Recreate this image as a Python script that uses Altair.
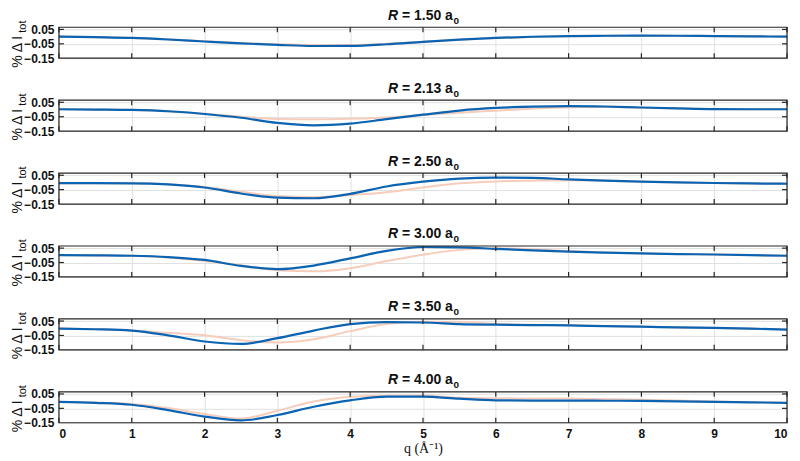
import altair as alt
import pandas as pd

q = [0, 0.5, 1, 1.5, 2, 2.5, 3, 3.5, 4, 4.5, 5, 5.5, 6, 6.5, 7, 7.5, 8, 8.5, 9, 9.5, 10]

r_labels = ["1.50", "2.13", "2.50", "3.00", "3.50", "4.00"]

blue_150 = [0.000, -0.004, -0.009, -0.020, -0.034, -0.047, -0.057, -0.065, -0.064, -0.053, -0.036,
            -0.021, -0.009, -0.001, 0.004, 0.006, 0.007, 0.006, 0.004, 0.002, 0.000]
orange_150 = [0.000, -0.004, -0.009, -0.019, -0.032, -0.044, -0.053, -0.058, -0.058, -0.050, -0.036,
              -0.022, -0.010, -0.002, 0.003, 0.005, 0.006, 0.005, 0.004, 0.002, 0.000]

blue_213 = [0.002, 0.000, -0.003, -0.012, -0.031, -0.057, -0.093, -0.110, -0.098, -0.067, -0.036,
            -0.007, 0.011, 0.020, 0.024, 0.021, 0.014, 0.008, 0.003, 0.002, 0.002]
orange_213 = [0.002, 0.000, -0.003, -0.012, -0.030, -0.050, -0.065, -0.068, -0.064, -0.055, -0.038,
              -0.022, -0.008, 0.006, 0.016, 0.018, 0.013, 0.008, 0.004, 0.002, 0.002]

blue_250 = [-0.005, -0.005, -0.006, -0.014, -0.035, -0.077, -0.106, -0.110, -0.079, -0.028, 0.005,
            0.027, 0.034, 0.032, 0.021, 0.012, 0.005, 0.000, -0.004, -0.007, -0.009]
orange_250 = [-0.005, -0.005, -0.006, -0.013, -0.032, -0.065, -0.094, -0.101, -0.088, -0.068, -0.035,
              -0.006, 0.007, 0.012, 0.015, 0.012, 0.005, 0.000, -0.004, -0.007, -0.009]

blue_300 = [0.002, 0.000, -0.003, -0.012, -0.032, -0.073, -0.096, -0.071, -0.021, 0.031, 0.058,
            0.056, 0.045, 0.035, 0.026, 0.019, 0.013, 0.009, 0.006, 0.002, -0.003]
orange_300 = [0.002, 0.000, -0.003, -0.015, -0.039, -0.068, -0.104, -0.111, -0.089, -0.040, 0.004,
              0.038, 0.049, 0.043, 0.030, 0.020, 0.013, 0.009, 0.006, 0.002, -0.003]

blue_350 = [-0.002, -0.007, -0.016, -0.049, -0.092, -0.109, -0.069, -0.016, 0.029, 0.042, 0.040,
            0.029, 0.025, 0.022, 0.020, 0.015, 0.011, 0.006, 0.002, -0.003, -0.009]
orange_350 = [-0.002, -0.007, -0.016, -0.032, -0.049, -0.083, -0.099, -0.076, -0.020, 0.029, 0.045,
              0.043, 0.030, 0.024, 0.020, 0.015, 0.011, 0.006, 0.002, -0.003, -0.009]

blue_400 = [-0.005, -0.012, -0.025, -0.062, -0.107, -0.134, -0.096, -0.039, 0.006, 0.031, 0.031,
            0.017, 0.006, 0.004, 0.004, 0.003, 0.002, -0.001, -0.005, -0.008, -0.012]
orange_400 = [-0.005, -0.010, -0.020, -0.048, -0.089, -0.121, -0.066, -0.003, 0.031, 0.038, 0.038,
              0.024, 0.020, 0.019, 0.018, 0.014, 0.010, 0.005, -0.002, -0.007, -0.012]

blues = [blue_150, blue_213, blue_250, blue_300, blue_350, blue_400]
oranges = [orange_150, orange_213, orange_250, orange_300, orange_350, orange_400]

x_ticks = [0, 1, 2, 3, 4, 5, 6, 7, 8, 9, 10]
y_ticks = [0.05, -0.05, -0.15]
y_inner_ticks = [0.05, -0.05]

DARK = "#262626"
TXT = "#111111"
GRID = "#E0E0E0"
BLUE = "#0B63B2"
ORANGE = "#F6CDBB"
FONT = "Liberation Sans"

W = 729
H = 31
TICK = 5


def panel(i):
    last = i == len(r_labels) - 1
    df = pd.DataFrame({"q": q, "blue": blues[i], "orange": oranges[i]})
    xs = alt.Scale(domain=[0, 10], nice=False, zero=False)
    ys = alt.Scale(domain=[-0.15, 0.065], nice=False, zero=False)
    base = alt.Chart(df)

    bottom_kw = dict(orient="bottom", values=x_ticks, grid=True, gridColor=GRID, gridWidth=1,
                     domain=False, ticks=False, labels=last, labelFont=FONT,
                     labelFontWeight="bold", labelFontSize=12, labelColor=TXT, labelPadding=6,
                     labelFlush=True, minExtent=0)
    if last:
        bottom_kw.update(title="q (Å\u207b\u00b9)", titleFont="Liberation Serif",
                         titleFontWeight="normal", titleFontSize=14, titleColor=TXT,
                         titlePadding=2)
    else:
        bottom_kw.update(title=None, maxExtent=0)
    left_kw = dict(orient="left", values=y_ticks, format=".2f", grid=True, gridColor=GRID,
                   domain=False, ticks=False, labelFont=FONT, labelFontWeight="bold",
                   labelFontSize=12, labelColor=TXT, labelPadding=5, minExtent=0,
                   title=None)

    orange = base.mark_line(color=ORANGE, strokeWidth=2, interpolate="monotone").encode(
        x=alt.X("q:Q", scale=xs, axis=alt.Axis(**bottom_kw)),
        y=alt.Y("orange:Q", scale=ys, axis=alt.Axis(**left_kw)),
    )
    blue = base.mark_line(color=BLUE, strokeWidth=2.2, interpolate="monotone").encode(
        x=alt.X("q:Q", scale=xs, axis=None),
        y=alt.Y("blue:Q", scale=ys, axis=None),
    )

    # inward tick marks on all four sides
    xt = alt.Chart(pd.DataFrame({"q": x_ticks}))
    yt = alt.Chart(pd.DataFrame({"v": y_inner_ticks}))
    rule = dict(color=DARK, strokeWidth=1.2)
    t_top = xt.mark_rule(**rule).encode(
        x=alt.X("q:Q", scale=xs, axis=None), y=alt.value(0), y2=alt.value(TICK))
    t_bot = xt.mark_rule(**rule).encode(
        x=alt.X("q:Q", scale=xs, axis=None), y=alt.value(H - TICK), y2=alt.value(H))
    t_left = yt.mark_rule(**rule).encode(
        y=alt.Y("v:Q", scale=ys, axis=None), x=alt.value(0), x2=alt.value(TICK))
    t_right = yt.mark_rule(**rule).encode(
        y=alt.Y("v:Q", scale=ys, axis=None), x=alt.value(W - TICK), x2=alt.value(W))

    # panel title  "R = x.xx a0"
    tdf = pd.DataFrame({"r": ["R"], "rest": [f"= {r_labels[i]} a"], "sub": ["0"]})
    tb = alt.Chart(tdf)
    frame = tb.mark_rect(fillOpacity=0, stroke=DARK, strokeWidth=1.2).encode(
        x=alt.value(0), x2=alt.value(W), y=alt.value(0), y2=alt.value(H))
    cx = W / 2
    t_base = -7.5
    t_r = tb.mark_text(font=FONT, fontSize=14, fontWeight="bold", fontStyle="italic",
                       color=TXT, align="left", baseline="alphabetic").encode(
        x=alt.value(cx - 35), y=alt.value(t_base), text="r:N")
    t_rest = tb.mark_text(font=FONT, fontSize=14, fontWeight="bold", color=TXT,
                          align="left", baseline="alphabetic").encode(
        x=alt.value(cx - 21), y=alt.value(t_base), text="rest:N")
    t_sub = tb.mark_text(font=FONT, fontSize=10, fontWeight="bold", color=TXT,
                         align="left", baseline="alphabetic").encode(
        x=alt.value(cx + 30.5), y=alt.value(t_base + 4), text="sub:N")

    # y title "% Δ I_tot"
    ydf = pd.DataFrame({"main": ["% \u0394 I"], "sub": ["tot"]})
    yb = alt.Chart(ydf)
    y_bottom = H / 2 + 25
    y_main = yb.mark_text(font=FONT, fontSize=14, color=TXT, angle=270, align="left",
                          baseline="alphabetic").encode(
        x=alt.value(-37), y=alt.value(y_bottom), text="main:N")
    y_sub = yb.mark_text(font=FONT, fontSize=11, color=TXT, angle=270, align="left",
                         baseline="alphabetic").encode(
        x=alt.value(-33), y=alt.value(y_bottom - 35), text="sub:N")

    return alt.layer(orange, blue, t_top, t_bot, t_left, t_right, frame,
                     t_r, t_rest, t_sub, y_main, y_sub).resolve_axis(
        x="independent", y="independent").properties(width=W, height=H)


chart = alt.vconcat(*[panel(i) for i in range(len(r_labels))], spacing=42,
                    bounds="flush").properties(
    padding={"left": 3, "top": 0, "right": 0, "bottom": 0}
).configure(background="white").configure_view(strokeWidth=0)

chart.save("out.html", embed_options={"renderer": "svg", "actions": False})
